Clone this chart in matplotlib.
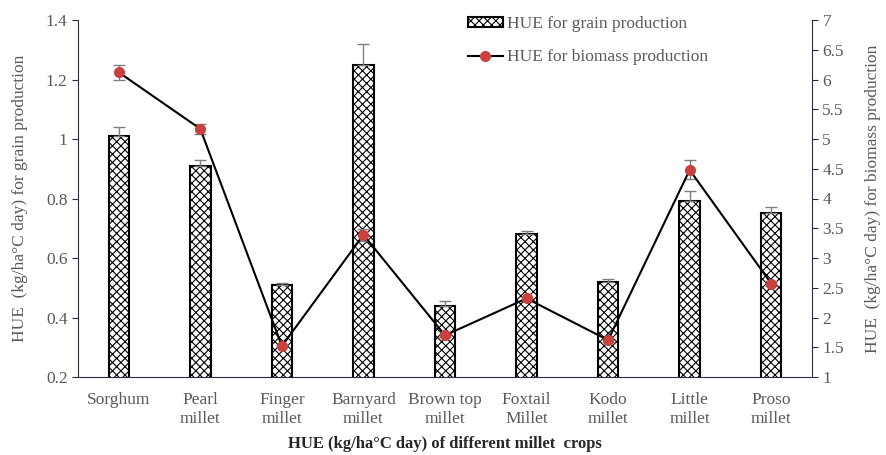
import matplotlib
matplotlib.use("Agg")
import matplotlib.pyplot as plt
import numpy as np

categories = ["Sorghum", "Pearl\nmillet", "Finger\nmillet", "Barnyard\nmillet", "Brown top\nmillet",
              "Foxtail\nMillet", "Kodo\nmillet", "Little\nmillet", "Proso\nmillet"]
grain = [1.01, 0.91, 0.51, 1.25, 0.44, 0.68, 0.52, 0.79, 0.75]
grain_err = [0.03, 0.02, 0.005, 0.07, 0.015, 0.01, 0.01, 0.035, 0.02]
biomass = [6.12, 5.17, 1.52, 3.39, 1.70, 2.32, 1.62, 4.48, 2.57]
biomass_err = [0.13, 0.08, 0.02, 0.10, 0.03, 0.03, 0.03, 0.16, 0.04]

plt.rcParams['font.family'] = ['Liberation Serif', 'DejaVu Serif']
plt.rcParams['hatch.linewidth'] = 0.8
txt = '#595959'
spine_c = '#2b2b40'

fig = plt.figure(figsize=(8.86, 4.55), dpi=100)
ax = fig.add_axes([78/886, 1-377/455, (812-78)/886, (377-20)/455])
x = np.arange(len(categories))
ax.bar(x, grain, width=0.25, color='white', edgecolor='black', linewidth=1.5, hatch='xxxx',
       label='HUE for grain production', zorder=2)
ax.errorbar(x, grain, yerr=[np.zeros(len(grain)), grain_err], fmt='none', ecolor='#7f7f7f',
            elinewidth=1, capsize=4, capthick=1, zorder=3)
ax.set_ylim(0.2, 1.4)
ax.set_yticks([0.2, 0.4, 0.6, 0.8, 1.0, 1.2, 1.4])
ax.set_yticklabels(['0.2', '0.4', '0.6', '0.8', '1', '1.2', '1.4'])
ax.set_xlim(-0.5, len(categories) - 0.5)
ax.set_xticks(x)
ax.set_xticklabels(categories, fontsize=12.5, color=txt, linespacing=1.25)
ax.tick_params(axis='x', length=0, pad=11)
ax.tick_params(axis='y', labelsize=12.5, colors=txt, direction='out', length=4, color=spine_c)
for s in ['top', 'right']:
    ax.spines[s].set_visible(False)
ax.spines['left'].set_color(spine_c)
ax.spines['bottom'].set_color(spine_c)
ax.set_ylabel('HUE  (kg/ha°C day) for grain production', fontsize=12.5, color=txt, labelpad=13)
ax.set_xlabel('HUE (kg/ha°C day) of different millet  crops', fontsize=12, fontweight='bold',
              color='#262626', labelpad=6)

ax2 = ax.twinx()
ax2.errorbar(x, biomass, yerr=biomass_err, fmt='none', ecolor='#7f7f7f', elinewidth=1,
             capsize=4, capthick=1, zorder=3)
ax2.plot(x, biomass, color='black', linewidth=1.5, marker='o', markersize=7,
         markerfacecolor='#c9413f', markeredgecolor='#c9413f', label='HUE for biomass production', zorder=4)
ax2.set_ylim(1, 7)
ax2.set_yticks(np.arange(1, 7.01, 0.5))
ax2.set_yticklabels(['1', '1.5', '2', '2.5', '3', '3.5', '4', '4.5', '5', '5.5', '6', '6.5', '7'])
ax2.tick_params(axis='y', labelsize=12.5, colors=txt, direction='out', length=4, color=spine_c)
for s in ['top', 'left', 'bottom']:
    ax2.spines[s].set_visible(False)
ax2.spines['right'].set_color(spine_c)
ax2.set_ylabel('HUE  (kg/ha°C day) for biomass production', fontsize=12.5, color=txt, labelpad=15)

h1, l1 = ax.get_legend_handles_labels()
h2, l2 = ax2.get_legend_handles_labels()
leg = ax2.legend(h1 + h2, l1 + l2, loc='upper left', bbox_to_anchor=(0.51, 1.055), frameon=False,
                 fontsize=12.5, handlelength=2.0, handleheight=0.5, handletextpad=0.25, labelspacing=1.0)
for t in leg.get_texts():
    t.set_color(txt)

fig.savefig('out.png', dpi=100)
